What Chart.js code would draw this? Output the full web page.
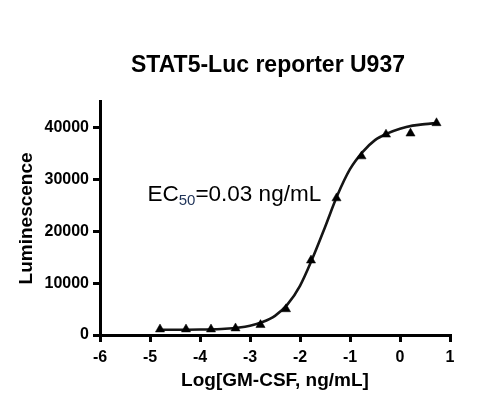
<!DOCTYPE html>
<html>
<head>
<meta charset="utf-8">
<script src="https://cdn.jsdelivr.net/npm/chart.js@4/dist/chart.umd.min.js"></script>
<style>
html,body{margin:0;padding:0;background:#fff;}
#wrap{width:500px;height:408px;}
</style>
</head>
<body>
<div id="wrap"><canvas id="c" width="500" height="408"></canvas></div>
<script>
// Measured data (log10 concentration, luminescence)
const logConc = [-4.8, -4.28, -3.78, -3.29, -2.79, -2.28, -1.78, -1.27, -0.77, -0.28, 0.21, 0.73];
const luminescence = [1100, 1100, 1100, 1300, 1950, 5000, 14400, 26400, 34500, 38700, 38900, 40900];
// Fitted curve
const curveX = [-4.8, -4.5, -4.0, -3.5, -3.0, -2.75, -2.5, -2.25, -2.0, -1.75, -1.5, -1.25, -1.0, -0.75, -0.5, -0.25, 0.0, 0.25, 0.5, 0.73];
const curveY = [1000, 1000, 1050, 1200, 1800, 2500, 3700, 5900, 9500, 14800, 20800, 27000, 32000, 35300, 37600, 38900, 39800, 40400, 40700, 40900];
const xTicks = [-6, -5, -4, -3, -2, -1, 0, 1];
const yTicks = [0, 10000, 20000, 30000, 40000];
const chartTitle = 'STAT5-Luc reporter U937';
const xTitle = 'Log[GM-CSF, ng/mL]';
const yTitle = 'Luminescence';
const ec50Label = {main: 'EC', sub: '50', rest: '=0.03 ng/mL', x: -5.05, y: 25800};

const FONT = "'Liberation Sans', Arial, sans-serif";

const pointsData = logConc.map((x, i) => ({x, y: luminescence[i]}));
const curveData = curveX.map((x, i) => ({x, y: curveY[i]}));

const annotationPlugin = {
  id: 'ec50',
  afterDatasetsDraw(chart) {
    const ctx = chart.ctx;
    const xs = chart.scales.x, ys = chart.scales.y;
    let px = xs.getPixelForValue(ec50Label.x);
    const py = ys.getPixelForValue(ec50Label.y);
    ctx.save();
    ctx.textBaseline = 'alphabetic';
    ctx.textAlign = 'left';
    ctx.fillStyle = '#000';
    ctx.font = "22.5px " + FONT;
    ctx.fillText(ec50Label.main, px, py);
    px += ctx.measureText(ec50Label.main).width;
    ctx.font = "15px " + FONT;
    ctx.fillStyle = '#1f3358';
    ctx.fillText(ec50Label.sub, px, py + 3.4);
    px += ctx.measureText(ec50Label.sub).width;
    ctx.font = "22.5px " + FONT;
    ctx.fillStyle = '#000';
    ctx.fillText(ec50Label.rest, px, py);
    ctx.restore();
  }
};

const titleShift = {
  id: 'titleShift',
  afterLayout(chart) {
    if (chart.titleBlock) {
      chart.titleBlock.left -= 7;
      chart.titleBlock.right -= 7;
    }
  }
};

new Chart(document.getElementById('c'), {
  type: 'scatter',
  data: {
    datasets: [
      {
        label: 'fit',
        data: curveData,
        showLine: true,
        borderColor: '#151515',
        borderWidth: 2.6,
        pointRadius: 0,
        cubicInterpolationMode: 'monotone',
        fill: false,
        order: 2
      },
      {
        label: 'data',
        data: pointsData,
        showLine: false,
        pointStyle: 'triangle',
        pointRadius: 5.3,
        pointBackgroundColor: '#000',
        pointBorderColor: '#000',
        pointBorderWidth: 0.5,
        order: 1
      }
    ]
  },
  options: {
    responsive: false,
    animation: false,
    events: [],
    layout: {padding: {left: 0, right: 50, top: 0, bottom: 0}},
    plugins: {
      legend: {display: false},
      tooltip: {enabled: false},
      title: {
        display: true,
        text: chartTitle,
        fullSize: false,
        color: '#000',
        font: {family: FONT, size: 23, weight: 'bold', lineHeight: 1.2},
        padding: {top: 52.2, bottom: 22.0}
      }
    },
    scales: {
      x: {
        type: 'linear',
        min: xTicks[0],
        max: xTicks[xTicks.length - 1],
        afterBuildTicks: s => { s.ticks = xTicks.map(v => ({value: v})); },
        afterFit: s => { s.height = 73; },
        ticks: {
          color: '#000',
          padding: 5.5,
          font: {family: FONT, size: 16, weight: 'bold'},
          callback: v => String(v),
          maxRotation: 0,
          autoSkip: false
        },
        grid: {display: true, drawOnChartArea: false, drawTicks: true, tickLength: 7, color: '#000', lineWidth: 3},
        border: {display: true, color: '#000', width: 3},
        title: {
          display: true,
          text: xTitle,
          color: '#000',
          font: {family: FONT, size: 19, weight: 'bold', lineHeight: 1.2},
          padding: {top: 0, bottom: 15.6}
        }
      },
      y: {
        type: 'linear',
        min: 0,
        max: 45000,
        afterBuildTicks: s => { s.ticks = yTicks.map(v => ({value: v})); },
        afterFit: s => { s.width = 100; },
        ticks: {
          color: '#000',
          padding: 4,
          font: {family: FONT, size: 16, weight: 'bold'},
          callback: v => String(v),
          autoSkip: false
        },
        grid: {display: true, drawOnChartArea: false, drawTicks: true, tickLength: 7, color: '#000', lineWidth: 3},
        border: {display: true, color: '#000', width: 3},
        title: {
          display: true,
          text: yTitle,
          color: '#000',
          font: {family: FONT, size: 19, weight: 'bold', lineHeight: 1.2},
          padding: {top: 15, bottom: 0}
        }
      }
    }
  },
  plugins: [annotationPlugin, titleShift]
});
</script>
</body>
</html>
